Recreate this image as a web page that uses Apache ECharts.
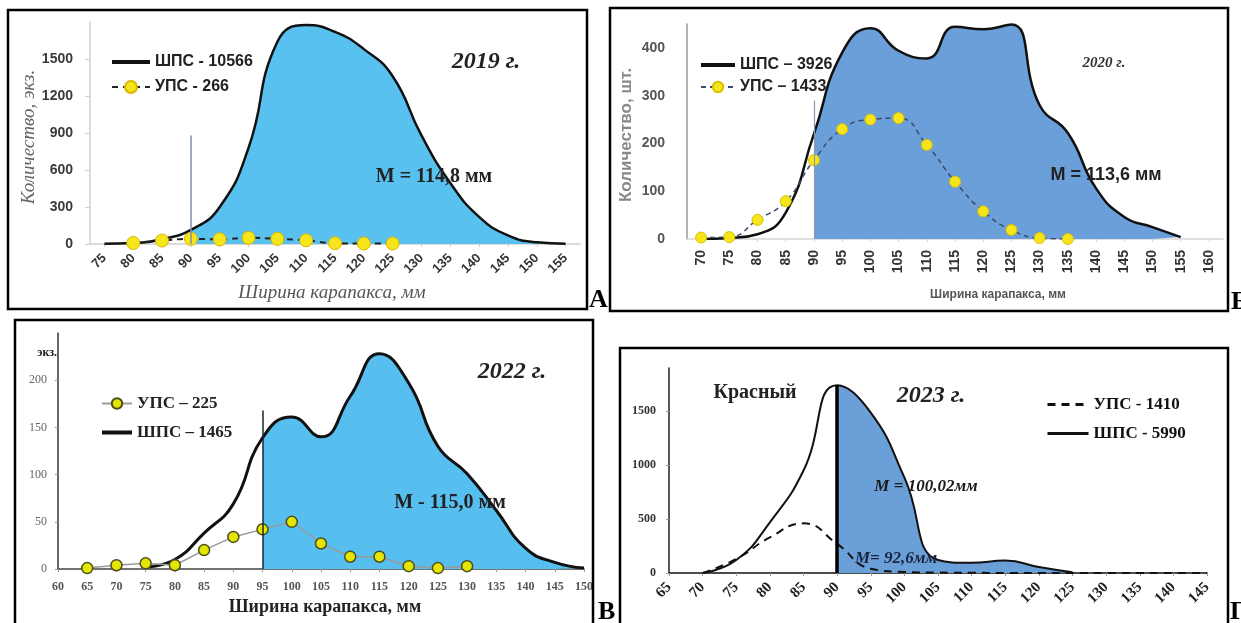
<!DOCTYPE html>
<html><head><meta charset="utf-8">
<script src="https://cdn.jsdelivr.net/npm/echarts@6/dist/echarts.min.js"></script>
<style>html,body{margin:0;padding:0;background:#fff}#c{width:1241px;height:623px}</style>
</head><body><div id="c"></div>
<script>
// ---------- DATA ----------
// Panel А — 2019
const cat2019 = ['75','80','85','90','95','100','105','110','115','120','125','130','135','140','145','150','155'];
const shps2019 = [3, 8, 40, 115, 300, 780, 1640, 1775, 1720, 1580, 1360, 880, 495, 220, 70, 14, 3];
const ups2019 = ['-', 8, 28, 42, 38, 50, 42, 30, 6, 4, 4, '-', '-', '-', '-', '-', '-'];
const yTicks2019 = [0, 300, 600, 900, 1200, 1500];
const fillFrom2019 = '90';
const mark2019 = ['90', 880];

// Panel Б — 2020
const cat2020 = ['70','75','80','85','90','95','100','105','110','115','120','125','130','135','140','145','150','155','160'];
const shps2020 = [0, 2, 10, 55, 220, 390, 441, 394, 378, 444, 439, 449, 280, 222, 106, 46, 25, 4, '-'];
const ups2020 = [3, 4, 40, 79, 165, 230, 250, 253, 197, 120, 58, 19, 2, 0, '-', '-', '-', '-', '-'];
const yTicks2020 = [0, 100, 200, 300, 400];
const fillFrom2020 = '90';
const mark2020 = ['90', 290];

// Panel В — 2022
const cat2022 = ['60','65','70','75','80','85','90','95','100','105','110','115','120','125','130','135','140','145','150'];
const shps2022 = ['-', '-', '-', 2, 10, 38, 69, 139, 161, 140, 183, 228, 197, 130, 101, 62, 22, 7, 1];
const ups2022 = ['-', 1, 4, 6, 4, 20, 34, 42, 50, 27, 13, 13, 3, 1, 3, '-', '-', '-', '-'];
const yTicks2022 = [0, 50, 100, 150, 200];
const fillFrom2022 = '95';
const mark2022 = ['95', 168];

// Panel Г — 2023
const cat2023 = ['65','70','75','80','85','90','95','100','105','110','115','120','125','130','135','140','145'];
const shps2023 = ['-', 0, 120, 470, 950, 1740, 1486, 886, 120, 95, 115, 55, 6, '-', '-', '-', '-'];
const ups2023 = ['-', 0, 130, 330, 460, 270, 40, 10, 4, 2, 0, 0, 0, 0, 0, 0, 0];
const yTicks2023 = [0, 500, 1000, 1500];
const fillFrom2023 = '90';
const mark2023 = ['90', 1740];

// ---------- STYLE ----------
const SANS = '"Liberation Sans", Arial, sans-serif';
const SERIF = '"Liberation Serif", "Times New Roman", serif';

const chart = echarts.init(document.getElementById('c'), null, {renderer: 'canvas'});

function yAx(gi, max, interval, ticks, o) {
  return {
    type: 'value', gridIndex: gi, min: 0, max: max, interval: interval,
    splitLine: {show: false},
    axisLine: {show: true, lineStyle: {color: o.lineColor, width: 1.5}},
    axisTick: {show: o.tick, length: o.tickLen || 4, inside: false, customValues: ticks, lineStyle: {color: o.tickColor || o.lineColor}},
    axisLabel: {customValues: ticks, formatter: function (v) { return String(v); }, margin: o.margin, fontFamily: o.font, fontWeight: o.weight, fontSize: o.size, color: o.color}
  };
}
function xAx(gi, cats, o) {
  return {
    type: 'category', gridIndex: gi, data: cats, boundaryGap: o.gap,
    axisLine: {show: true, lineStyle: {color: o.lineColor, width: 1.5}},
    axisTick: {show: true, alignWithLabel: true, length: 3, lineStyle: {color: o.tickColor || o.lineColor}},
    axisLabel: {interval: 0, rotate: o.rotate, margin: o.margin, fontFamily: o.font, fontWeight: o.weight, fontSize: o.size, color: o.color},
    splitLine: {show: false}
  };
}
function markV(pt, color, width) {
  return {
    silent: true, symbol: ['none', 'none'], label: {show: false}, animation: false,
    lineStyle: {color: color, width: width, type: 'solid'},
    data: [[{coord: [pt[0], 0]}, {coord: [pt[0], pt[1]]}]]
  };
}
function txt(x, y, text, font, fill, align, valign, rot) {
  return {type: 'text', x: x, y: y, rotation: rot || 0, z: 100, silent: true,
    style: {text: text, font: font, fill: fill, textAlign: align, align: align, textVerticalAlign: valign, verticalAlign: valign}};
}
function box(x, y, w, h) {
  return {type: 'rect', z: 90, silent: true, shape: {x: x, y: y, width: w, height: h}, style: {fill: 'none', stroke: '#000', lineWidth: 2.5}};
}
const noDot = {opacity: 0};
const thick = {width: 4};

const option = {
  animation: false,
  backgroundColor: '#fff',
  grid: [
    {left: 90, top: 22, width: 490, height: 222},
    {left: 687, top: 24, width: 536, height: 215},
    {left: 58, top: 333, width: 526, height: 236},
    {left: 669, top: 368, width: 538, height: 205}
  ],
  xAxis: [
    xAx(0, cat2019, {gap: true, lineColor: '#cfcfcf', rotate: 45, margin: 12, font: SANS, weight: 'bold', size: 13, color: '#333'}),
    xAx(1, cat2020, {gap: true, lineColor: '#d6d6d6', rotate: 90, margin: 11, font: SANS, weight: 'bold', size: 14, color: '#333'}),
    xAx(2, cat2022, {gap: false, lineColor: '#444', tickColor: '#999', rotate: 0, margin: 12, font: SERIF, weight: 'bold', size: 12, color: '#555'}),
    xAx(3, cat2023, {gap: false, lineColor: '#111', tickColor: '#999', rotate: 45, margin: 12, font: SERIF, weight: 'bold', size: 15, color: '#222'})
  ],
  yAxis: [
    yAx(0, 1800, 300, yTicks2019, {lineColor: '#cfcfcf', tick: true, tickLen: 5, margin: 17, font: SANS, weight: 'bold', size: 14, color: '#3a3a3a'}),
    yAx(1, 450, 100, yTicks2020, {lineColor: '#999', tick: false, margin: 22, font: SANS, weight: 'bold', size: 14, color: '#555'}),
    yAx(2, 250, 50, yTicks2022, {lineColor: '#333', tickColor: '#999', tick: true, tickLen: 3, margin: 11, font: SERIF, weight: 'normal', size: 12, color: '#666'}),
    yAx(3, 1900, 500, yTicks2023, {lineColor: '#222', tickColor: '#999', tick: true, tickLen: 3, margin: 13, font: SERIF, weight: 'bold', size: 12, color: '#333'})
  ],
  visualMap: [
    {type: 'piecewise', show: false, seriesIndex: 0, dimension: 0, pieces: [{gte: -1, lt: cat2019.indexOf(fillFrom2019), color: 'rgba(255,255,255,0)'}, {gte: cat2019.indexOf(fillFrom2019), lte: 99, color: '#58c1f0'}]},
    {type: 'piecewise', show: false, seriesIndex: 2, dimension: 0, pieces: [{gte: -1, lt: cat2020.indexOf(fillFrom2020), color: 'rgba(255,255,255,0)'}, {gte: cat2020.indexOf(fillFrom2020), lte: 99, color: '#6a9fd9'}]},
    {type: 'piecewise', show: false, seriesIndex: 4, dimension: 0, pieces: [{gte: -1, lt: cat2022.indexOf(fillFrom2022), color: 'rgba(255,255,255,0)'}, {gte: cat2022.indexOf(fillFrom2022), lte: 99, color: '#56bff0'}]},
    {type: 'piecewise', show: false, seriesIndex: 6, dimension: 0, pieces: [{gte: -1, lt: cat2023.indexOf(fillFrom2023), color: 'rgba(255,255,255,0)'}, {gte: cat2023.indexOf(fillFrom2023), lte: 99, color: '#6b9fd8'}]}
  ],
  legend: [
    {data: [{name: 'ШПС - 10566', itemStyle: noDot, lineStyle: thick}, 'УПС - 266'], left: 105, top: 49, orient: 'vertical', itemWidth: 38, itemHeight: 15, itemGap: 9, selectedMode: false,
      textStyle: {fontFamily: SANS, fontWeight: 'bold', fontSize: 16, color: '#222'}},
    {data: [{name: 'ШПС – 3926', itemStyle: noDot, lineStyle: thick}, 'УПС – 1433'], left: 694, top: 52, orient: 'vertical', itemWidth: 34, itemHeight: 13, itemGap: 6, itemTextGap: 2, selectedMode: false,
      textStyle: {fontFamily: SANS, fontWeight: 'bold', fontSize: 16, color: '#222'}},
    {data: ['УПС – 225', {name: 'ШПС – 1465', itemStyle: noDot, lineStyle: thick}], left: 95, top: 390, orient: 'vertical', itemWidth: 30, itemHeight: 13, itemGap: 12, itemTextGap: 2, selectedMode: false,
      textStyle: {fontFamily: SERIF, fontWeight: 'bold', fontSize: 17, color: '#222'}},
    {data: [{name: 'УПС - 1410', itemStyle: noDot, lineStyle: {width: 3}}, {name: 'ШПС - 5990', itemStyle: noDot, lineStyle: {width: 3}}], left: 1041, top: 391, orient: 'vertical', itemWidth: 41, itemHeight: 13, itemGap: 12, itemTextGap: 3, selectedMode: false,
      textStyle: {fontFamily: SERIF, fontWeight: 'bold', fontSize: 17, color: '#111'}}
  ],
  series: [
    // 0: А ШПС
    {name: 'ШПС - 10566', type: 'line', xAxisIndex: 0, yAxisIndex: 0, data: shps2019, smooth: true, symbol: 'none', z: 2,
      lineStyle: {color: '#111', width: 2.5}, itemStyle: {color: '#111'}, areaStyle: {opacity: 1}},
    // 1: А УПС
    {name: 'УПС - 266', type: 'line', xAxisIndex: 0, yAxisIndex: 0, data: ups2019, smooth: true, symbol: 'circle', symbolSize: 13, z: 4,
      lineStyle: {color: '#222', width: 2, type: [6, 5]}, itemStyle: {color: '#f7e51c', borderColor: '#d9b800', borderWidth: 1},
      markLine: markV(mark2019, '#7f8fa8', 1.5)},
    // 2: Б ШПС
    {name: 'ШПС – 3926', type: 'line', xAxisIndex: 1, yAxisIndex: 1, data: shps2020, smooth: true, symbol: 'none', z: 2,
      lineStyle: {color: '#111', width: 2.5}, itemStyle: {color: '#111'}, areaStyle: {opacity: 1}},
    // 3: Б УПС
    {name: 'УПС – 1433', type: 'line', xAxisIndex: 1, yAxisIndex: 1, data: ups2020, smooth: true, symbol: 'circle', symbolSize: 11, z: 4,
      lineStyle: {color: '#3b4a6b', width: 1.5, type: [5, 4]}, itemStyle: {color: '#f7e51c', borderColor: '#d9c000', borderWidth: 1},
      markLine: markV(mark2020, '#8a98b0', 1.2)},
    // 4: В ШПС
    {name: 'ШПС – 1465', type: 'line', xAxisIndex: 2, yAxisIndex: 2, data: shps2022, smooth: true, symbol: 'none', z: 2,
      lineStyle: {color: '#111', width: 3}, itemStyle: {color: '#111'}, areaStyle: {opacity: 1}},
    // 5: В УПС
    {name: 'УПС – 225', type: 'line', xAxisIndex: 2, yAxisIndex: 2, data: ups2022, smooth: false, symbol: 'circle', symbolSize: 11, z: 4,
      lineStyle: {color: '#9a9a9a', width: 1.5}, itemStyle: {color: '#e3e600', borderColor: '#4d4d20', borderWidth: 1.5},
      markLine: markV(mark2022, '#1a2530', 1.5)},
    // 6: Г ШПС
    {name: 'ШПС - 5990', type: 'line', xAxisIndex: 3, yAxisIndex: 3, data: shps2023, smooth: true, symbol: 'none', z: 2,
      lineStyle: {color: '#111', width: 2}, itemStyle: {color: '#111'}, areaStyle: {opacity: 1}},
    // 7: Г УПС
    {name: 'УПС - 1410', type: 'line', xAxisIndex: 3, yAxisIndex: 3, data: ups2023, smooth: true, symbol: 'none', z: 4,
      lineStyle: {color: '#111', width: 2, type: [8, 6]}, itemStyle: {color: '#111'},
      markLine: markV(mark2023, '#000', 3.5)}
  ],
  graphic: [
    box(8, 10, 579, 299),
    box(610, 8, 618, 303),
    box(15, 320, 578, 330),
    box(620, 348, 608, 300),
    // Panel А texts
    txt(486, 62, '2019 г.', 'italic bold 24px ' + SERIF, '#222', 'center', 'middle'),
    txt(434, 177, 'M = 114,8 мм', 'bold 20px ' + SERIF, '#222', 'center', 'middle'),
    txt(332, 293, 'Ширина карапакса, мм', 'italic 19px ' + SERIF, '#555', 'center', 'middle'),
    txt(29, 137, 'Количество, экз.', 'italic 19px ' + SERIF, '#666', 'center', 'middle', Math.PI / 2),
    txt(589, 300, 'А', 'bold 26px ' + SERIF, '#000', 'left', 'middle'),
    // Panel Б texts
    txt(1104, 63, '2020 г.', 'italic bold 15px ' + SERIF, '#333', 'center', 'middle'),
    txt(1106, 175, 'M = 113,6 мм', 'bold 18px ' + SANS, '#222', 'center', 'middle'),
    txt(998, 295, 'Ширина карапакса, мм', 'bold 12px ' + SANS, '#555', 'center', 'middle'),
    txt(626, 135, 'Количество, шт.', 'bold 17px ' + SANS, '#888', 'center', 'middle', Math.PI / 2),
    txt(1231, 302, 'Б', 'bold 26px ' + SERIF, '#000', 'left', 'middle'),
    // Panel В texts
    txt(57, 353, 'экз.', 'bold 12px ' + SERIF, '#222', 'right', 'middle'),
    txt(512, 372, '2022 г.', 'italic bold 24px ' + SERIF, '#222', 'center', 'middle'),
    txt(450, 503, 'M - 115,0 мм', 'bold 20px ' + SERIF, '#222', 'center', 'middle'),
    txt(325, 607, 'Ширина карапакса, мм', 'bold 18px ' + SERIF, '#222', 'center', 'middle'),
    txt(598, 612, 'В', 'bold 26px ' + SERIF, '#000', 'left', 'middle'),
    // Panel Г texts
    txt(755, 393, 'Красный', 'bold 20px ' + SERIF, '#222', 'center', 'middle'),
    txt(931, 396, '2023 г.', 'italic bold 24px ' + SERIF, '#222', 'center', 'middle'),
    txt(926, 487, 'M = 100,02мм', 'italic bold 17px ' + SERIF, '#1a1a1a', 'center', 'middle'),
    txt(896, 559, 'M= 92,6мм', 'italic bold 17px ' + SERIF, '#1a2440', 'center', 'middle'),
    txt(1230, 612, 'Г', 'bold 26px ' + SERIF, '#000', 'left', 'middle')
  ]
};
chart.setOption(option);
</script>
</body></html>
